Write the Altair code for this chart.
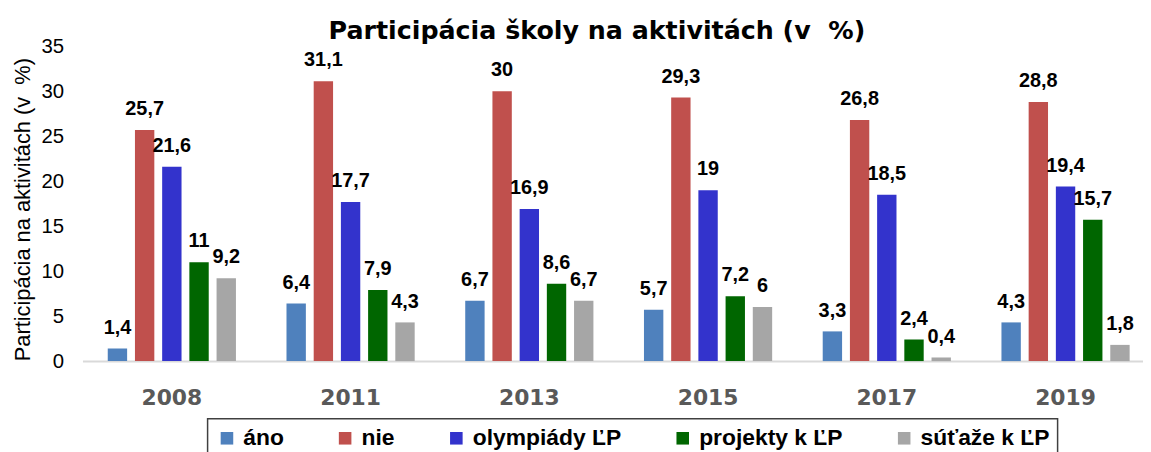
import altair as alt
import pandas as pd

years = ["2008", "2011", "2013", "2015", "2017", "2019"]
series = ["áno", "nie", "olympiády ĽP", "projekty k ĽP", "súťaže k ĽP"]
ano = [1.4, 6.4, 6.7, 5.7, 3.3, 4.3]
nie = [25.7, 31.1, 30, 29.3, 26.8, 28.8]
olympiady = [21.6, 17.7, 16.9, 19, 18.5, 19.4]
projekty = [11, 7.9, 8.6, 7.2, 2.4, 15.7]
sutaze = [9.2, 4.3, 6.7, 6, 0.4, 1.8]
colors = ["#4F81BD", "#C0504D", "#3333CC", "#006600", "#A6A6A6"]
y_ticks = [0, 5, 10, 15, 20, 25, 30, 35]
chart_title = "Participácia školy na aktivitách (v \u00a0%)"
y_title = "Participácia na aktivitách (v \u00a0%)"


def fmt(v):
    s = ("%g" % v)
    return s.replace(".", ",")


rows = []
for s_name, vals in zip(series, [ano, nie, olympiady, projekty, sutaze]):
    for yr, v in zip(years, vals):
        rows.append({"rok": yr, "séria": s_name, "hodnota": v, "popis": fmt(v)})
df = pd.DataFrame(rows)

x_enc = alt.X(
    "rok:N",
    sort=years,
    title=None,
    scale=alt.Scale(range=[0, 1080], paddingInner=0.239, paddingOuter=0.1195),
    axis=alt.Axis(
        labelAngle=0,
        labelFont="DejaVu Sans",
        labelFontWeight="bold",
        labelFontSize=22,
        labelColor="#595959",
        labelBaseline="middle",
        labelPadding=37,
        ticks=False,
        domainColor="#D9D9D9",
        domainWidth=2,
        grid=False,
    ),
)
xoff_enc = alt.XOffset(
    "séria:N",
    sort=series,
    scale=alt.Scale(domain=series, paddingInner=0.288, paddingOuter=0.144),
)
y_enc = alt.Y(
    "hodnota:Q",
    scale=alt.Scale(domain=[0, 35], nice=False),
    axis=alt.Axis(
        values=y_ticks,
        title=y_title,
        titleFont="Liberation Sans",
        titleFontWeight="normal",
        titleFontSize=22,
        titleColor="#000000",
        titleAngle=270,
        titleAlign="center",
        titleBaseline="middle",
        titleX=-60,
        titleY=164,
        labelFont="Liberation Sans",
        labelFontSize=20.5,
        labelColor="#000000",
        labelPadding=19,
        ticks=False,
        domain=False,
        grid=False,
    ),
)

bars = alt.Chart(df).mark_bar().encode(
    x=x_enc,
    xOffset=xoff_enc,
    y=y_enc,
    color=alt.Color(
        "séria:N",
        scale=alt.Scale(domain=series, range=colors),
        legend=alt.Legend(
            title=None,
            orient="none",
            direction="horizontal",
            legendX=126,
            legendY=375,
            symbolType="square",
            symbolSize=160,
            symbolStrokeWidth=0,
            symbolOpacity=1,
            labelFont="Liberation Sans",
            labelFontWeight="bold",
            labelFontSize=23,
            labelColor="#000000",
            labelOffset=5,
            columnPadding=50,
            padding=8,
            strokeColor="#404040",
        ),
    ),
)

labels = alt.Chart(df).mark_text(
    font="Liberation Sans",
    fontWeight="bold",
    fontSize=20,
    color="#000000",
    baseline="alphabetic",
    dy=-15,
).encode(
    x=alt.X("rok:N", sort=years),
    xOffset=alt.XOffset("séria:N", sort=series),
    y=alt.Y("hodnota:Q"),
    text="popis:N",
)

chart = (
    alt.layer(bars, labels)
    .properties(
        width=1068,
        height=317,
        autosize=alt.AutoSizeParams(type="none"),
        padding={"left": 75, "top": 37, "right": 0, "bottom": 90},
        title=alt.Title(
            chart_title,
            font="DejaVu Sans",
            fontWeight="bold",
            fontSize=25.5,
            color="#000000",
            anchor="middle",
            baseline="alphabetic",
            offset=7,
            dx=-16,
            dy=35,
        ),
    )
    .configure_view(stroke=None)
    .configure_legend(strokeWidth=1.5)
)

chart.save("out.html", embed_options={"renderer": "svg", "actions": False})
